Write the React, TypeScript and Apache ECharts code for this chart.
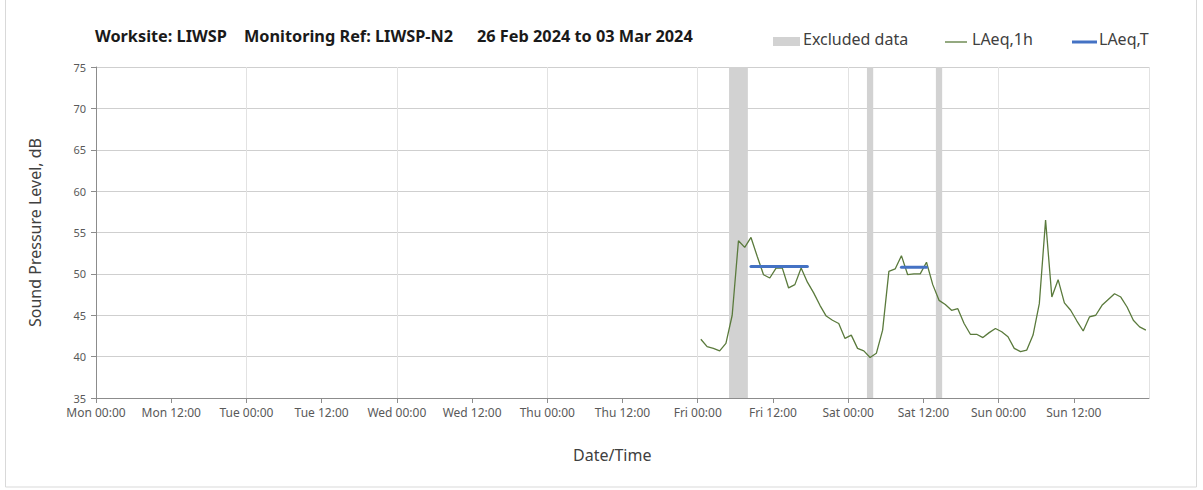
import React, { useEffect, useRef } from "react";
import * as echarts from "echarts";

// Hours measured from Mon 26 Feb 2024 00:00
const xTickLabels = [
  "Mon 00:00", "Mon 12:00", "Tue 00:00", "Tue 12:00", "Wed 00:00", "Wed 12:00",
  "Thu 00:00", "Thu 12:00", "Fri 00:00", "Fri 12:00", "Sat 00:00", "Sat 12:00",
  "Sun 00:00", "Sun 12:00",
];
const yTicks = [35, 40, 45, 50, 55, 60, 65, 70, 75];

// Hourly LAeq,1h values from Fri 00:00 (plotted at the middle of each hour)
const firstHour = 96.5;
const laeq1hValues = [
  42.1, 41.2, 41.0, 40.7, 41.6, 45.0, 54.0, 53.2, 54.4, 52.1, 49.9, 49.5,
  50.7, 50.7, 48.3, 48.7, 50.7, 49.0, 47.7, 46.2, 44.9, 44.4, 44.0, 42.2,
  42.6, 41.0, 40.7, 39.9, 40.4, 43.2, 50.3, 50.6, 52.2, 49.9, 50.0, 50.0,
  51.4, 48.7, 46.8, 46.3, 45.6, 45.8, 44.0, 42.7, 42.7, 42.3, 42.9, 43.4,
  43.0, 42.4, 41.0, 40.6, 40.8, 42.6, 46.4, 56.5, 47.2, 49.3, 46.5, 45.6,
  44.3, 43.1, 44.8, 45.0, 46.2, 46.9, 47.6, 47.2, 46.0, 44.4, 43.6, 43.2,
];

// LAeq,T periods: [start hour, end hour, level]
const laeqTPeriods: [number, number, number][] = [
  [104.5, 113.5, 50.9],
  [128.5, 132.5, 50.8],
];

// Excluded data periods: [start hour, end hour]
const excludedPeriods: [number, number][] = [
  [101, 104],
  [123, 124],
  [134, 135],
];

const FONT = "'Noto Sans', sans-serif";
const GREEN = "#5a7a3c";
const BLUE = "#4472c4";
const GREY_BAND = "#d2d2d2";

export default function App() {
  const ref = useRef<HTMLDivElement>(null);

  useEffect(() => {
    if (!ref.current) return;
    const chart = echarts.init(ref.current, undefined, { renderer: "svg" });

    const lineData = laeq1hValues.map((v, i) => [firstHour + i, v]);

    const tSeries = laeqTPeriods.map((p, i) => ({
      name: "LAeq,T",
      id: "laeqT" + i,
      type: "line",
      data: [
        [p[0], p[2]],
        [p[1], p[2]],
      ],
      showSymbol: false,
      symbol: "none",
      lineStyle: { color: BLUE, width: 3, cap: "round" },
      itemStyle: { color: BLUE },
      z: 4,
    }));

    const option: any = {
      animation: false,
      backgroundColor: "#ffffff",
      grid: { left: 96, right: 54, top: 67, bottom: 92, containLabel: false },
      xAxis: [
        {
          type: "value",
          min: 0,
          max: 168,
          interval: 12,
          axisLine: { show: true, lineStyle: { color: "#8c8c8c", width: 1 } },
          axisTick: { show: true, length: 5, lineStyle: { color: "#8c8c8c" } },
          axisLabel: {
            fontFamily: FONT,
            fontSize: 12,
            color: "#595959",
            margin: 8,
            showMaxLabel: false,
            formatter: (v: number) => xTickLabels[Math.round(v / 12)] ?? "",
          },
          splitLine: { show: false },
        },
        {
          type: "value",
          min: 0,
          max: 168,
          interval: 24,
          position: "bottom",
          axisLine: { show: false },
          axisTick: { show: false },
          axisLabel: { show: false },
          splitLine: { show: true, lineStyle: { color: "#e2e2e2", width: 1 } },
        },
      ],
      yAxis: {
        type: "value",
        min: yTicks[0],
        max: yTicks[yTicks.length - 1],
        interval: 5,
        name: "Sound Pressure Level, dB",
        nameLocation: "middle",
        nameGap: 53,
        nameTextStyle: { fontFamily: FONT, fontSize: 16, color: "#404040" },
        axisLine: { show: true, lineStyle: { color: "#8c8c8c", width: 1 } },
        axisTick: { show: true, length: 5, lineStyle: { color: "#8c8c8c" } },
        axisLabel: { fontFamily: FONT, fontSize: 11, color: "#595959", margin: 10 },
        splitLine: { show: true, lineStyle: { color: "#cfcfcf", width: 1 } },
      },
      series: [
        {
          name: "Excluded data",
          type: "line",
          data: [],
          z: 1,
          markArea: {
            silent: true,
            itemStyle: { color: GREY_BAND },
            data: excludedPeriods.map((p) => [{ xAxis: p[0] }, { xAxis: p[1] }]),
          },
        },
        {
          name: "LAeq,1h",
          type: "line",
          data: lineData,
          showSymbol: false,
          symbol: "none",
          lineStyle: { color: GREEN, width: 1.3 },
          itemStyle: { color: GREEN },
          z: 3,
        },
        ...tSeries,
      ],
      graphic: [
        {
          type: "rect",
          shape: { x: 5.5, y: -5, width: 1191, height: 492 },
          style: { fill: "none", stroke: "#d9d9d9", lineWidth: 1 },
          silent: true,
        },
        {
          type: "text",
          left: 95,
          top: 28,
          style: { text: "Worksite: LIWSP", font: `bold 16.3px ${FONT}`, fill: "#1a1a1a" },
        },
        {
          type: "text",
          left: 244,
          top: 28,
          style: { text: "Monitoring Ref: LIWSP-N2", font: `bold 16.3px ${FONT}`, fill: "#1a1a1a" },
        },
        {
          type: "text",
          left: 477,
          top: 28,
          style: { text: "26 Feb 2024 to 03 Mar 2024", font: `bold 16.3px ${FONT}`, fill: "#1a1a1a" },
        },
        {
          type: "rect",
          shape: { x: 773, y: 37, width: 27, height: 9 },
          style: { fill: GREY_BAND },
        },
        {
          type: "text",
          left: 803,
          top: 31,
          style: { text: "Excluded data", font: `16px ${FONT}`, fill: "#404040" },
        },
        {
          type: "line",
          shape: { x1: 945, y1: 42, x2: 967, y2: 42 },
          style: { stroke: GREEN, lineWidth: 1.3 },
        },
        {
          type: "text",
          left: 972,
          top: 31,
          style: { text: "LAeq,1h", font: `16px ${FONT}`, fill: "#404040" },
        },
        {
          type: "line",
          shape: { x1: 1072, y1: 42, x2: 1097, y2: 42 },
          style: { stroke: BLUE, lineWidth: 3 },
        },
        {
          type: "text",
          left: 1099,
          top: 31,
          style: { text: "LAeq,T", font: `16px ${FONT}`, fill: "#404040" },
        },
        {
          type: "text",
          left: 573,
          top: 447,
          style: { text: "Date/Time", font: `16px ${FONT}`, fill: "#404040" },
        },
      ],
    };

    chart.setOption(option);
    return () => chart.dispose();
  }, []);

  return (
    <div
      ref={ref}
      style={{ position: "fixed", left: 0, top: 0, width: 1203, height: 490 }}
    />
  );
}
